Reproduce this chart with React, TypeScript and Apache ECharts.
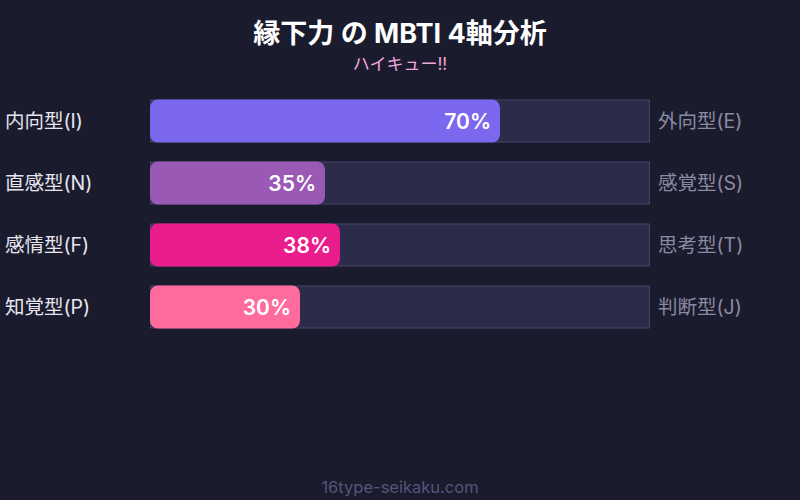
import React, { useEffect, useRef } from 'react';
import * as echarts from 'echarts';

const leftLabels = ['内向型(I)', '直感型(N)', '感情型(F)', '知覚型(P)'];
const rightLabels = ['外向型(E)', '感覚型(S)', '思考型(T)', '判断型(J)'];
const values = [70, 35, 38, 30];
const barColors = ['#7b68ee', '#9b59b6', '#e91e8c', '#ff6b9d'];
const trackValues = [100, 100, 100, 100];

const FONT = "Inter, 'Noto Sans CJK JP', sans-serif";

const App: React.FC = () => {
  const chartRef = useRef<HTMLDivElement>(null);

  useEffect(() => {
    if (!chartRef.current) return;
    const chart = echarts.init(chartRef.current, null, { renderer: 'svg' });

    const option = {
      animation: false,
      backgroundColor: '#1b1b2e',
      textStyle: { fontFamily: FONT },
      title: [
        {
          text: '縁下力 の MBTI 4軸分析',
          left: 'center',
          top: 15,
          textStyle: { color: '#ffffff', fontSize: 27, fontWeight: 'bold', fontFamily: FONT }
        },
        {
          text: 'ハイキュー!!',
          left: 'center',
          top: 50,
          textStyle: { color: '#f0a8d8', fontSize: 17, fontWeight: 'normal', fontFamily: FONT }
        },
        {
          text: '16type-seikaku.com',
          left: 'center',
          top: 474,
          textStyle: { color: '#55557a', fontSize: 16.5, fontWeight: 'normal', fontFamily: FONT }
        }
      ],
      grid: { left: 150, right: 150, top: 90, height: 248 },
      xAxis: {
        type: 'value',
        min: 0,
        max: 100,
        show: false
      },
      yAxis: [
        {
          type: 'category',
          data: leftLabels,
          inverse: true,
          position: 'left',
          axisLine: { show: false },
          axisTick: { show: false },
          axisLabel: {
            color: '#e6e6f0',
            fontSize: 19.5,
            fontFamily: FONT,
            align: 'left',
            margin: 145,
            padding: [0, 0, 5, 0]
          }
        },
        {
          type: 'category',
          data: rightLabels,
          inverse: true,
          position: 'right',
          axisLine: { show: false },
          axisTick: { show: false },
          axisLabel: {
            color: '#8a8aa2',
            fontSize: 19.5,
            fontFamily: FONT,
            align: 'left',
            margin: 8,
            padding: [0, 0, 5, 0]
          }
        }
      ],
      series: [
        {
          type: 'bar',
          data: trackValues,
          barWidth: 43,
          silent: true,
          itemStyle: { color: '#2d2b4a', borderColor: '#46456a', borderWidth: 1 },
          z: 1
        },
        {
          type: 'bar',
          data: values.map((v, i) => ({ value: v, itemStyle: { color: barColors[i] } })),
          barWidth: 43,
          barGap: '-100%',
          itemStyle: { borderRadius: 8 },
          label: {
            show: true,
            position: 'insideRight',
            distance: 9,
            formatter: '{c}%',
            color: '#ffffff',
            fontSize: 21,
            fontWeight: 600,
            fontFamily: FONT,
            padding: [0, 0, 3, 0]
          },
          z: 2
        }
      ]
    };

    chart.setOption(option as any);
    return () => chart.dispose();
  }, []);

  return (
    <div
      ref={chartRef}
      style={{ position: 'absolute', left: 0, top: 0, width: 800, height: 500 }}
    />
  );
};

export default App;
